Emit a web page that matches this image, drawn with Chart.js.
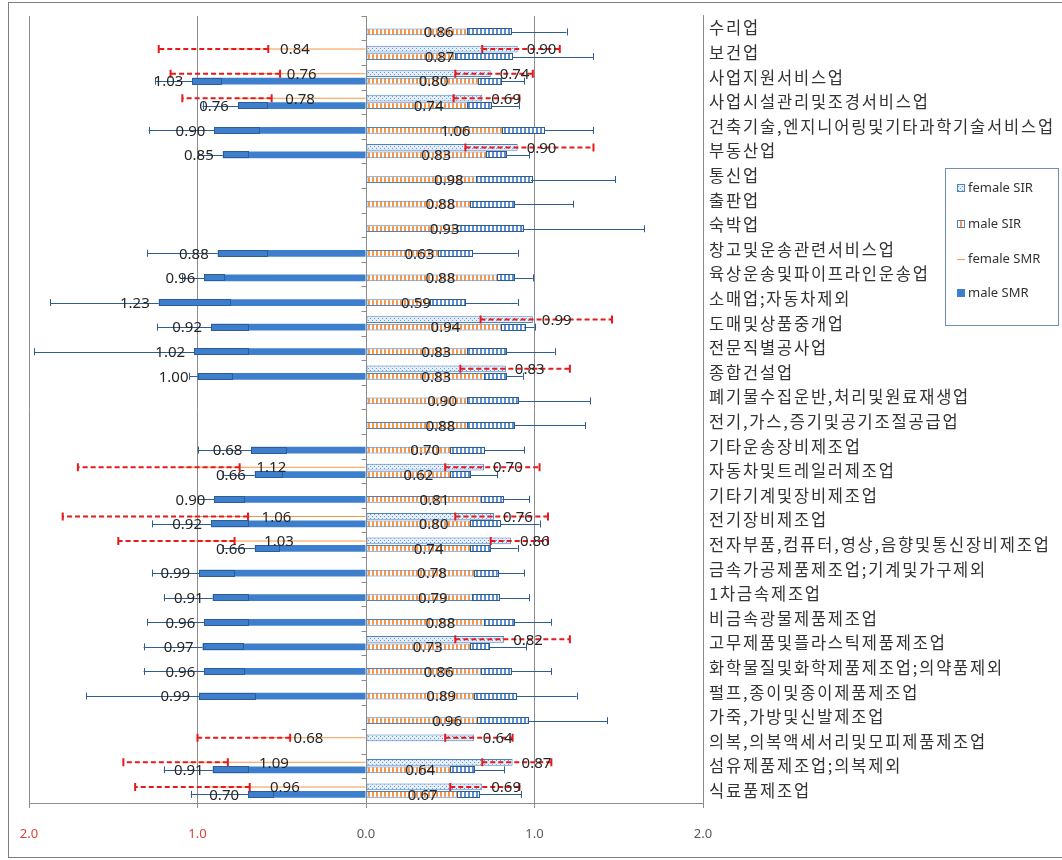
<!DOCTYPE html>
<html>
<head>
<meta charset="utf-8">
<script src="https://cdn.jsdelivr.net/npm/chart.js@4.4.1/dist/chart.umd.min.js"></script>
<style>
  html, body { margin: 0; padding: 0; background: #ffffff; }
  canvas { display: block; }
</style>
</head>
<body>
<canvas id="chart" width="1062" height="860"></canvas>
<script>
// Industries, listed top to bottom
const categories = [
  '수리업', '보건업', '사업지원서비스업', '사업시설관리및조경서비스업',
  '건축기술,엔지니어링및기타과학기술서비스업', '부동산업', '통신업', '출판업', '숙박업',
  '창고및운송관련서비스업', '육상운송및파이프라인운송업', '소매업;자동차제외', '도매및상품중개업',
  '전문직별공사업', '종합건설업', '폐기물수집운반,처리및원료재생업', '전기,가스,증기및공기조절공급업',
  '기타운송장비제조업', '자동차및트레일러제조업', '기타기계및장비제조업', '전기장비제조업',
  '전자부품,컴퓨터,영상,음향및통신장비제조업', '금속가공제품제조업;기계및가구제외', '1차금속제조업',
  '비금속광물제품제조업', '고무제품및플라스틱제품제조업', '화학물질및화학제품제조업;의약품제외',
  '펄프,종이및종이제품제조업', '가죽,가방및신발제조업', '의복,의복액세서리및모피제품제조업',
  '섬유제품제조업;의복제외', '식료품제조업'
];

// Standardized incidence ratios (right side)
const femaleSIR     = [null, 0.90, 0.74, 0.69, null, 0.90, null, null, null, null, null, null, 0.99, null, 0.83, null, null, null, 0.70, null, 0.76, 0.86, null, null, null, 0.82, null, null, null, 0.64, 0.87, 0.69];
const femaleSIRLow  = [null, 0.69, 0.53, 0.52, null, 0.59, null, null, null, null, null, null, 0.68, null, 0.56, null, null, null, 0.47, null, 0.53, 0.74, null, null, null, 0.53, null, null, null, 0.47, 0.69, 0.50];
const femaleSIRHigh = [null, 1.15, 0.99, 0.91, null, 1.35, null, null, null, null, null, null, 1.46, null, 1.21, null, null, null, 1.03, null, 1.08, 1.08, null, null, null, 1.21, null, null, null, 0.87, 1.10, 0.91];

const maleSIR     = [0.86, 0.87, 0.80, 0.74, 1.06, 0.83, 0.98, 0.88, 0.93, 0.63, 0.88, 0.59, 0.94, 0.83, 0.83, 0.90, 0.88, 0.70, 0.62, 0.81, 0.80, 0.74, 0.78, 0.79, 0.88, 0.73, 0.86, 0.89, 0.96, null, 0.64, 0.67];
const maleSIRLow  = [0.60, 0.53, 0.665, 0.60, 0.81, 0.71, 0.65, 0.62, 0.54, 0.43, 0.78, 0.38, 0.80, 0.60, 0.70, 0.60, 0.60, 0.50, 0.50, 0.68, 0.62, 0.62, 0.64, 0.63, 0.70, 0.62, 0.68, 0.64, 0.66, null, 0.50, 0.54];
const maleSIRHigh = [1.19, 1.35, 0.94, 0.91, 1.35, 0.97, 1.48, 1.23, 1.65, 0.90, 0.99, 0.90, 1.00, 1.12, 0.93, 1.33, 1.30, 0.94, 0.78, 0.97, 1.03, 0.90, 0.94, 0.97, 1.10, 0.95, 1.10, 1.25, 1.43, null, 0.82, 0.92];

// Standardized mortality ratios (drawn to the left)
const femaleSMR     = [null, 0.84, 0.76, 0.78, null, null, null, null, null, null, null, null, null, null, null, null, null, null, 1.12, null, 1.06, 1.03, null, null, null, null, null, null, null, 0.68, 1.09, 0.96];
const femaleSMRLow  = [null, 0.58, 0.51, 0.56, null, null, null, null, null, null, null, null, null, null, null, null, null, null, 0.75, null, 0.70, 0.78, null, null, null, null, null, null, null, 0.45, 0.82, 0.69];
const femaleSMRHigh = [null, 1.23, 1.16, 1.09, null, null, null, null, null, null, null, null, null, null, null, null, null, null, 1.71, null, 1.80, 1.47, null, null, null, null, null, null, null, 1.00, 1.44, 1.37];

const maleSMR     = [null, null, 1.03, 0.76, 0.90, 0.85, null, null, null, 0.88, 0.96, 1.23, 0.92, 1.02, 1.00, null, null, 0.68, 0.66, 0.90, 0.92, 0.66, 0.99, 0.91, 0.96, 0.97, 0.96, 0.99, null, null, 0.91, 0.70];
const maleSMRLow  = [null, null, 0.855, 0.59, 0.635, 0.70, null, null, null, 0.59, 0.84, 0.81, 0.70, 0.70, 0.80, null, null, 0.47, 0.50, 0.72, 0.70, 0.52, 0.78, 0.70, 0.70, 0.73, 0.72, 0.66, null, null, 0.70, 0.55];
const maleSMRHigh = [null, null, 1.25, 0.97, 1.29, 1.00, null, null, null, 1.30, 1.09, 1.875, 1.24, 1.97, 1.05, null, null, 1.00, 0.85, 1.00, 1.27, 0.85, 1.27, 1.20, 1.30, 1.32, 1.32, 1.66, null, null, 1.20, 1.04];

// Value axis: mortality to the left of zero, incidence to the right
const xTickValues = [-2, -1, 0, 1, 2];
const xTickLabels = ['2.0', '1.0', '0.0', '1.0', '2.0'];

const negate = arr => arr.map(v => (v == null ? null : -v));

function makePattern(w, h, paint) {
  const c = document.createElement('canvas');
  c.width = w; c.height = h;
  const g = c.getContext('2d');
  paint(g);
  return g.createPattern(c, 'repeat');
}
const dotFill = makePattern(4, 4, g => {
  g.fillStyle = '#e4eef9'; g.fillRect(0, 0, 4, 4);
  g.fillStyle = '#6f9bd3'; g.fillRect(0, 0, 1, 1); g.fillRect(2, 2, 1, 1);
});
const orangeStripeFill = makePattern(4, 4, g => {
  g.fillStyle = '#ffffff'; g.fillRect(0, 0, 4, 4);
  g.fillStyle = '#f79646'; g.fillRect(0, 0, 2, 4);
});
const blueStripeFill = makePattern(4, 4, g => {
  g.fillStyle = '#ffffff'; g.fillRect(0, 0, 4, 4);
  g.fillStyle = '#5f8fcb'; g.fillRect(0, 0, 2, 4);
});

const LABEL_FONT = '15px "Noto Sans", "DejaVu Sans", sans-serif';
const CATEGORY_FONT = { family: '"Noto Sans CJK KR", "Noto Sans", sans-serif', size: 16.5 };

// Confidence-interval whiskers
const errorBarPlugin = {
  id: 'ciWhiskers',
  afterDatasetsDraw(chart) {
    const ctx = chart.ctx;
    const xs = chart.scales.x;
    chart.data.datasets.forEach((ds, di) => {
      if (!ds.ci) return;
      const meta = chart.getDatasetMeta(di);
      const sign = ds.mirrored ? -1 : 1;
      meta.data.forEach((bar, i) => {
        if (ds.data[i] == null || ds.ci.low[i] == null) return;
        const { x, y } = bar.getProps(['x', 'y'], true);
        const pLo = xs.getPixelForValue(sign * ds.ci.low[i]);
        const pHi = xs.getPixelForValue(sign * ds.ci.high[i]);
        ctx.save();
        if (ds.ci.style === 'female') {
          ctx.strokeStyle = '#e41a1c';
          ctx.lineWidth = 2;
          ctx.setLineDash([5, 3]);
          ctx.beginPath(); ctx.moveTo(pLo, y); ctx.lineTo(pHi, y); ctx.stroke();
          ctx.setLineDash([]);
          ctx.beginPath();
          ctx.moveTo(pLo, y - 4); ctx.lineTo(pLo, y + 4);
          ctx.moveTo(pHi, y - 4); ctx.lineTo(pHi, y + 4);
          ctx.stroke();
        } else {
          const h = 7;
          const left = Math.min(pLo, x), right = Math.max(pLo, x);
          ctx.fillStyle = ds.ci.innerFill || 'rgba(0,0,0,0)';
          ctx.fillRect(left, y - h / 2 + 0.5, right - left, h - 1);
          ctx.strokeStyle = '#2e5d95';
          ctx.lineWidth = 1;
          ctx.strokeRect(Math.round(left) + 0.5, Math.round(y - h / 2) + 0.5, Math.round(right - left), h - 1);
          ctx.beginPath();
          ctx.moveTo(x, Math.round(y) + 0.5); ctx.lineTo(pHi, Math.round(y) + 0.5);
          ctx.moveTo(Math.round(pHi) + 0.5, y - 3.5); ctx.lineTo(Math.round(pHi) + 0.5, y + 3.5);
          ctx.stroke();
        }
        ctx.restore();
      });
    });
  }
};

// Value labels on the bars
const valueLabelPlugin = {
  id: 'valueLabels',
  afterDatasetsDraw(chart) {
    const ctx = chart.ctx;
    ctx.save();
    ctx.font = LABEL_FONT;
    ctx.fillStyle = '#262626';
    ctx.textBaseline = 'middle';
    chart.data.datasets.forEach((ds, di) => {
      const meta = chart.getDatasetMeta(di);
      meta.data.forEach((bar, i) => {
        const v = ds.data[i];
        if (v == null) return;
        const { x, y, base } = bar.getProps(['x', 'y', 'base'], true);
        const text = Math.abs(v).toFixed(2);
        let tx;
        if (ds.labelAt === 'center') {
          ctx.textAlign = 'center'; tx = (x + base) / 2;
        } else if (v >= 0) {
          ctx.textAlign = 'left'; tx = x + 9;
        } else {
          ctx.textAlign = 'right'; tx = x - 9;
        }
        ctx.fillText(text, tx, y + 1);
      });
    });
    ctx.restore();
  }
};

// Frame, spaced category labels, tick marks on the zero line, and the legend box
const decorationPlugin = {
  id: 'decorations',
  beforeDraw(chart) {
    const ys = chart.scales.y;
    if (!ys._spacedLabels) {
      const drawLabels = ys.drawLabels;
      ys.drawLabels = function (area) {
        this.ctx.save();
        this.ctx.letterSpacing = '1.8px';
        drawLabels.call(this, area);
        this.ctx.restore();
      };
      ys._spacedLabels = true;
    }
    const ctx = chart.ctx;
    ctx.save();
    ctx.fillStyle = '#ffffff';
    ctx.fillRect(0, 0, chart.width, chart.height);
    ctx.strokeStyle = '#7f7f7f';
    ctx.lineWidth = 1;
    ctx.strokeRect(8.5, 2.5, chart.width + 10, 855);
    ctx.restore();
  },
  afterDraw(chart) {
    const ctx = chart.ctx;
    const xs = chart.scales.x, ys = chart.scales.y;
    const x0 = Math.round(xs.getPixelForValue(0)) + 0.5;
    ctx.save();
    ctx.strokeStyle = '#8c8c8c';
    ctx.lineWidth = 1;
    ctx.beginPath();
    const n = categories.length;
    const step = (ys.getPixelForValue(n - 1) - ys.getPixelForValue(0)) / (n - 1);
    for (let i = 0; i <= n; i++) {
      const yy = Math.round(ys.getPixelForValue(0) - step / 2 + i * step) + 0.5;
      ctx.moveTo(x0 - 5, yy); ctx.lineTo(x0, yy);
    }
    ctx.stroke();

    // legend
    const lx = 945, ly = 168, lw = 113, lh = 157;
    ctx.fillStyle = '#ffffff';
    ctx.fillRect(lx, ly, lw, lh);
    ctx.strokeStyle = '#6f8fb8';
    ctx.strokeRect(lx + 0.5, ly + 0.5, lw, lh);
    const rows = [188, 224, 259, 293];
    ctx.font = '13px "Noto Sans", "DejaVu Sans", sans-serif';
    ctx.textBaseline = 'middle';
    ctx.textAlign = 'left';
    chart.data.datasets.forEach((ds, di) => {
      const ry = rows[di];
      const bx = 957;
      if (ds.legendKind === 'line') {
        ctx.strokeStyle = '#f79646';
        ctx.beginPath(); ctx.moveTo(bx, ry + 0.5); ctx.lineTo(bx + 8, ry + 0.5); ctx.stroke();
      } else {
        ctx.fillStyle = ds.backgroundColor;
        ctx.fillRect(bx, ry - 4, 8, 8);
        if (ds.borderWidth) {
          ctx.strokeStyle = ds.borderColor;
          ctx.strokeRect(bx + 0.5, ry - 3.5, 7, 7);
        }
      }
      ctx.fillStyle = '#333333';
      ctx.fillText(ds.label, bx + 11, ry);
    });
    ctx.restore();
  }
};

new Chart(document.getElementById('chart'), {
  type: 'bar',
  data: {
    labels: categories,
    datasets: [
      {
        label: 'female SIR', data: femaleSIR, stack: 'female',
        backgroundColor: dotFill, borderColor: '#4f81bd', borderWidth: 1, borderSkipped: false,
        ci: { low: femaleSIRLow, high: femaleSIRHigh, style: 'female' }, labelAt: 'end'
      },
      {
        label: 'male SIR', data: maleSIR, stack: 'male',
        backgroundColor: orangeStripeFill, borderColor: '#4f81bd', borderWidth: 1, borderSkipped: false,
        ci: { low: maleSIRLow, high: maleSIRHigh, style: 'male', innerFill: blueStripeFill }, labelAt: 'center'
      },
      {
        label: 'female SMR', data: negate(femaleSMR), stack: 'female', mirrored: true,
        backgroundColor: '#f79646', borderWidth: 0, maxBarThickness: 1, legendKind: 'line',
        ci: { low: femaleSMRLow, high: femaleSMRHigh, style: 'female' }, labelAt: 'center'
      },
      {
        label: 'male SMR', data: negate(maleSMR), stack: 'male', mirrored: true,
        backgroundColor: '#3d7fcc', borderWidth: 0,
        ci: { low: maleSMRLow, high: maleSMRHigh, style: 'male' }, labelAt: 'end'
      }
    ]
  },
  options: {
    responsive: false,
    animation: false,
    indexAxis: 'y',
    layout: { padding: { top: 14, left: 29, right: 0, bottom: 0 } },
    datasets: { bar: { categoryPercentage: 0.61, barPercentage: 0.9 } },
    plugins: { legend: { display: false }, tooltip: { enabled: false } },
    scales: {
      x: {
        min: -2, max: 2,
        afterBuildTicks(scale) { scale.ticks = xTickValues.map(v => ({ value: v })); },
        ticks: {
          callback: (v) => xTickLabels[xTickValues.indexOf(v)],
          color: (c) => (c.tick && c.tick.value < 0 ? '#d9433b' : '#595959'),
          font: { family: '"Noto Sans", "DejaVu Sans", sans-serif', size: 13 },
          padding: 18
        },
        grid: { color: '#8c8c8c', tickLength: 5 },
        border: { color: '#8c8c8c' },
        afterFit(scale) { scale.height = 57; }
      },
      y: {
        position: 'right',
        grid: { display: false, drawTicks: false },
        border: { display: true, color: '#8c8c8c' },
        ticks: { autoSkip: false, padding: 6, color: '#333333', font: CATEGORY_FONT },
        afterFit(scale) { scale.width = 359; }
      }
    }
  },
  plugins: [decorationPlugin, errorBarPlugin, valueLabelPlugin]
});
</script>
</body>
</html>
